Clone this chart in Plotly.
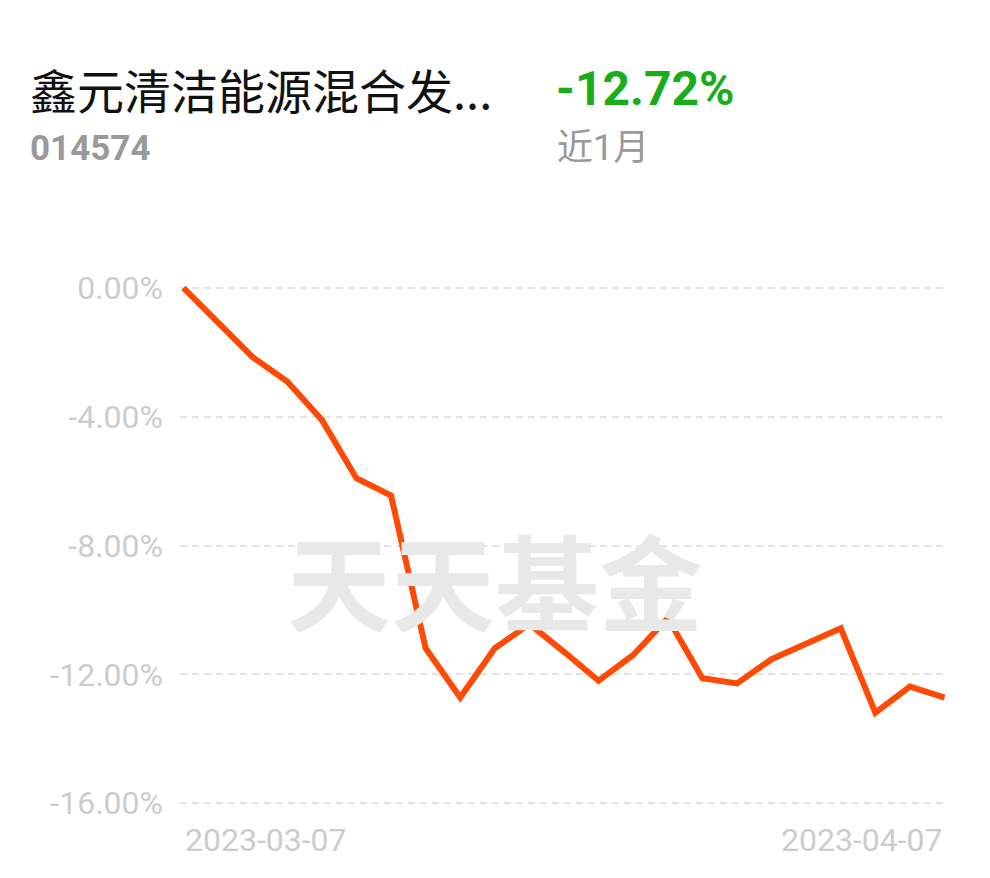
import plotly.graph_objects as go

# ---- data ----
dates = ["2023-03-07", "2023-03-08", "2023-03-09", "2023-03-10", "2023-03-13", "2023-03-14",
         "2023-03-15", "2023-03-16", "2023-03-17", "2023-03-20", "2023-03-21", "2023-03-22",
         "2023-03-23", "2023-03-24", "2023-03-27", "2023-03-28", "2023-03-29", "2023-03-30",
         "2023-03-31", "2023-04-03", "2023-04-04", "2023-04-06", "2023-04-07"]
returns = [0.00, -1.07, -2.15, -2.91, -4.10, -5.91, -6.45, -11.19, -12.72, -11.19, -10.44, -11.30,
           -12.20, -11.40, -10.26, -12.12, -12.28, -11.53, -11.06, -10.57, -13.19, -12.38, -12.72]
y_ticks = [0, -4, -8, -12, -16]
y_tick_labels = ["0.00%", "-4.00%", "-8.00%", "-12.00%", "-16.00%"]
fund_name = "鑫元清洁能源混合发..."
fund_code = "014574"
period_return = "-12.72%"
period_label = "近1月"
watermark = "天天基金"

OFF = 8  # page body margin
W, H = 990 - OFF, 878 - OFF
L, T = 180 - OFF, 283 - OFF
R = 990 - 948
B = 878 - 808
pw, ph = W - L - R, H - T - B


def px(x):
    return (x - OFF - L) / pw


def py(y):
    return (H - B - (y - OFF)) / ph


FONT = "Roboto, 'Noto Sans CJK SC', sans-serif"
idx = list(range(len(dates)))

fig = go.Figure()
# watermark (below the line)
fig.add_trace(go.Scatter(
    x=[px(495)], y=[py(598)], xaxis="x2", yaxis="y2", mode="text", text=[watermark],
    textfont=dict(family="'Noto Sans CJK SC'", size=104, color="#e8e8e8", weight=700),
    hoverinfo="skip", showlegend=False))
fig.add_trace(go.Scatter(
    x=idx, y=returns, mode="lines",
    line=dict(color="#ff4a05", width=6, shape="linear"),
    showlegend=False, hoverinfo="skip"))

fig.update_layout(
    width=W, height=H, margin=dict(l=L, r=R, t=T, b=B),
    paper_bgcolor="white", plot_bgcolor="white",
    font=dict(family=FONT),
    xaxis=dict(range=[-0.1, len(dates) - 1 + 0.1], showgrid=False, zeroline=False,
               showticklabels=False, showline=False),
    yaxis=dict(range=[-16.15, 0.15], tickvals=y_ticks, ticktext=y_tick_labels,
               showgrid=True, gridcolor="#e3e3e3", griddash="7px,5px", gridwidth=2,
               zeroline=False, showline=False, ticks="",
               tickfont=dict(size=32, color="#cccccc"), ticklabelstandoff=16),
    xaxis2=dict(range=[0, 1], overlaying="x", visible=False),
    yaxis2=dict(range=[0, 1], overlaying="y", visible=False),
)

# x end labels
fig.add_annotation(x=idx[0], y=py(840), xref="x", yref="paper", text=dates[0],
                   showarrow=False, xanchor="left", yanchor="middle",
                   font=dict(size=32, color="#cccccc"))
fig.add_annotation(x=idx[-1], y=py(840), xref="x", yref="paper", text=dates[-1],
                   showarrow=False, xanchor="right", yanchor="middle",
                   font=dict(size=32, color="#cccccc"))

# header texts
fig.add_annotation(x=px(28), y=py(88), xref="paper", yref="paper", text=fund_name,
                   showarrow=False, xanchor="left", yanchor="middle",
                   font=dict(size=47, color="#111111", family="'Noto Sans CJK SC', sans-serif"))
fig.add_annotation(x=px(554), y=py(89), xref="paper", yref="paper", text=f"<b>{period_return}</b>",
                   showarrow=False, xanchor="left", yanchor="middle",
                   font=dict(size=48, color="#19ad19"))
fig.add_annotation(x=px(28), y=py(148), xref="paper", yref="paper", text=f"<b>{fund_code}</b>",
                   showarrow=False, xanchor="left", yanchor="middle",
                   font=dict(size=35, color="#999999"))
fig.add_annotation(x=px(555), y=py(148), xref="paper", yref="paper", text=period_label,
                   showarrow=False, xanchor="left", yanchor="middle",
                   font=dict(size=36, color="#999999"))

fig.write_html("out.html")
